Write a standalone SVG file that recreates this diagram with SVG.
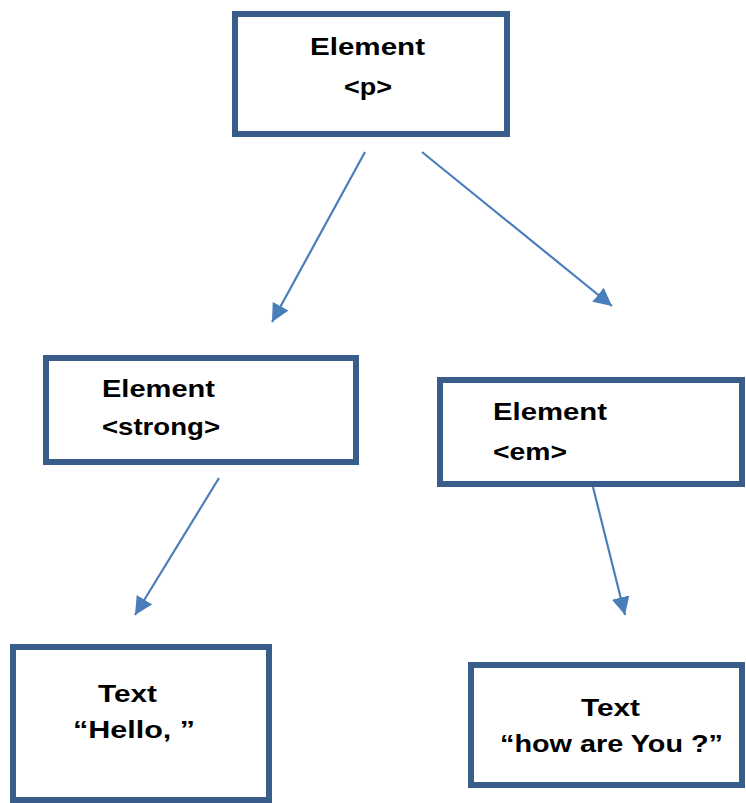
<svg xmlns="http://www.w3.org/2000/svg" width="746" height="803" viewBox="0 0 746 803">
<defs>
<style>
.box{fill:#fff;stroke:#385D8A;stroke-width:6}
.lbl{font-family:"Liberation Sans",Arial,sans-serif;font-weight:bold;font-size:24px;fill:#000}
.conn{stroke:#4A7EBB;stroke-width:2.2;fill:none}
</style>
<marker id="ah" markerUnits="userSpaceOnUse" markerWidth="20" markerHeight="18" refX="18" refY="9" orient="auto">
<path d="M0,0 L18,9 L0,18 Z" fill="#4A7EBB"/>
</marker>
</defs>
<rect width="746" height="803" fill="#fff"/>
<g id="connectors">
<line class="conn" x1="365" y1="152" x2="272" y2="322" marker-end="url(#ah)"/>
<line class="conn" x1="422" y1="152" x2="612" y2="306" marker-end="url(#ah)"/>
<line class="conn" x1="219" y1="478" x2="135" y2="615" marker-end="url(#ah)"/>
<line class="conn" x1="593" y1="487" x2="625" y2="615" marker-end="url(#ah)"/>
</g>
<g id="node-p">
<rect class="box" x="235" y="14" width="272" height="120"/>
<text class="lbl" x="310" y="55" textLength="115" lengthAdjust="spacingAndGlyphs">Element</text>
<text class="lbl" x="344" y="95" textLength="48" lengthAdjust="spacingAndGlyphs">&lt;p&gt;</text>
</g>
<g id="node-strong">
<rect class="box" x="46" y="358" width="310" height="104"/>
<text class="lbl" x="102" y="397" textLength="113" lengthAdjust="spacingAndGlyphs">Element</text>
<text class="lbl" x="102" y="435" textLength="118" lengthAdjust="spacingAndGlyphs">&lt;strong&gt;</text>
</g>
<g id="node-em">
<rect class="box" x="440" y="380" width="302" height="104"/>
<text class="lbl" x="493" y="420" textLength="114" lengthAdjust="spacingAndGlyphs">Element</text>
<text class="lbl" x="493" y="460" textLength="74" lengthAdjust="spacingAndGlyphs">&lt;em&gt;</text>
</g>
<g id="node-hello">
<rect class="box" x="13" y="647" width="256" height="153"/>
<text class="lbl" x="98" y="702" textLength="59" lengthAdjust="spacingAndGlyphs">Text</text>
<text class="lbl" x="73" y="738" textLength="122" lengthAdjust="spacingAndGlyphs">“Hello, ”</text>
</g>
<g id="node-how">
<rect class="box" x="471" y="665" width="271" height="120"/>
<text class="lbl" x="581" y="716" textLength="59" lengthAdjust="spacingAndGlyphs">Text</text>
<text class="lbl" x="500" y="752" textLength="223" lengthAdjust="spacingAndGlyphs">“how are You ?”</text>
</g>
</svg>
